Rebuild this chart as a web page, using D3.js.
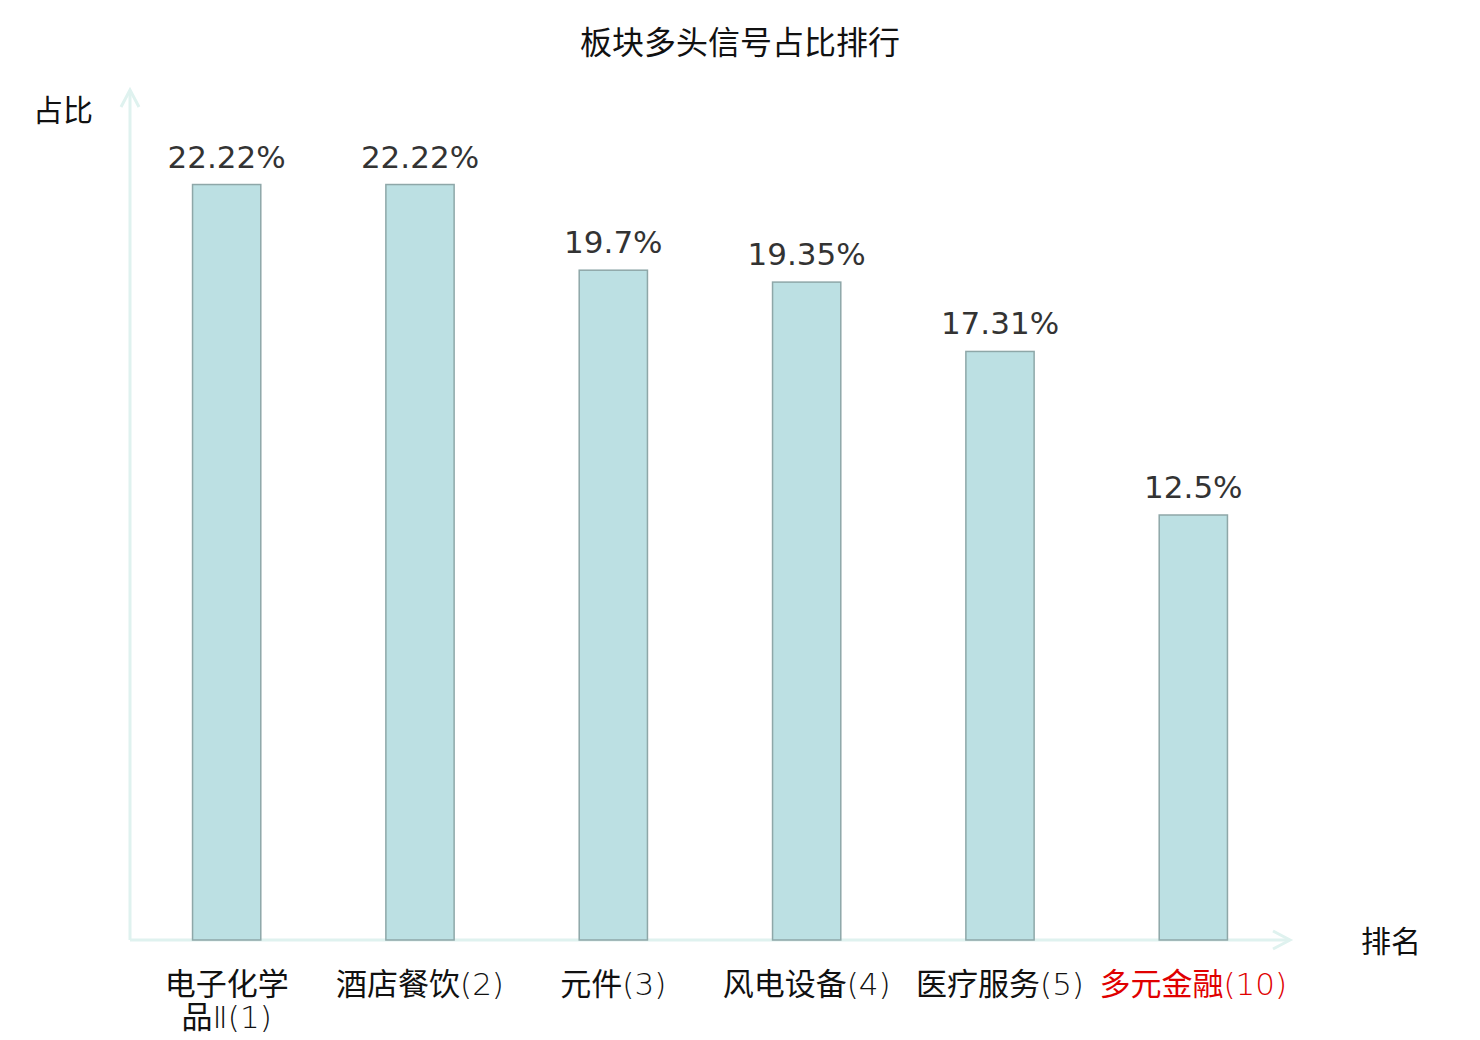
<!DOCTYPE html>
<html>
<head>
<meta charset="utf-8">
<script src="https://cdn.jsdelivr.net/npm/d3@7"></script>
<style>
  body { margin: 0; background: #fff; }
  text { font-family: "Noto Sans CJK SC", "DejaVu Sans", sans-serif; }
</style>
</head>
<body>
<script>
const width = 1480;
const height = 1040;

// Data.
const categories = ["电子化学品Ⅱ(1)", "酒店餐饮(2)", "元件(3)", "风电设备(4)", "医疗服务(5)", "多元金融(10)"];
const labelLines = [["电子化学", "品Ⅱ(1)"], ["酒店餐饮(2)"], ["元件(3)"], ["风电设备(4)"], ["医疗服务(5)"], ["多元金融(10)"]];
const values = [22.22, 22.22, 19.7, 19.35, 17.31, 12.5];
const highlighted = ["多元金融(10)"];

const margin = { left: 130, right: 190, top: 90, bottom: 100 };
const baseY = height - margin.bottom;

const svg = d3.select("body").append("svg")
  .attr("width", width)
  .attr("height", height);

// Scales.
const x = d3.scaleBand()
  .domain(categories)
  .range([margin.left, width - margin.right])
  .paddingInner(0.647)
  .paddingOuter(0.3235);

const y = d3.scaleLinear()
  .domain([0, 25])
  .range([baseY, margin.top]);

const axisColor = "#dff2ef";

// Title.
svg.append("text")
  .attr("x", width / 2)
  .attr("y", 54)
  .attr("text-anchor", "middle")
  .style("font-size", "32px")
  .style("fill", "#111")
  .text("板块多头信号占比排行");

// Y axis line with arrow.
svg.append("line")
  .attr("x1", margin.left).attr("y1", baseY)
  .attr("x2", margin.left).attr("y2", margin.top)
  .attr("stroke", axisColor).attr("stroke-width", 3);
svg.append("path")
  .attr("d", `M${margin.left - 9},${margin.top + 17}L${margin.left},${margin.top}L${margin.left + 9},${margin.top + 17}`)
  .attr("fill", "none").attr("stroke", axisColor).attr("stroke-width", 3);

// X axis line with arrow.
const xEnd = width - margin.right;
svg.append("line")
  .attr("x1", margin.left).attr("y1", baseY)
  .attr("x2", xEnd).attr("y2", baseY)
  .attr("stroke", axisColor).attr("stroke-width", 3);
svg.append("path")
  .attr("d", `M${xEnd - 17},${baseY - 9}L${xEnd},${baseY}L${xEnd - 17},${baseY + 9}`)
  .attr("fill", "none").attr("stroke", axisColor).attr("stroke-width", 3);

// Axis names.
svg.append("text")
  .attr("x", 63).attr("y", 121)
  .attr("text-anchor", "middle")
  .style("font-size", "30px").style("fill", "#111")
  .text("占比");
svg.append("text")
  .attr("x", 1391).attr("y", 952)
  .attr("text-anchor", "middle")
  .style("font-size", "30px").style("fill", "#111")
  .text("排名");

// Bars.
svg.selectAll(".bar")
  .data(values)
  .enter()
  .append("rect")
  .attr("class", "bar")
  .attr("x", (d, i) => x(categories[i]))
  .attr("y", d => y(d))
  .attr("width", x.bandwidth())
  .attr("height", d => baseY - y(d))
  .attr("fill", "#bce0e3")
  .attr("stroke", "#8ea7a8")
  .attr("stroke-width", 1.5);

// Value labels.
svg.selectAll(".value")
  .data(values)
  .enter()
  .append("text")
  .attr("class", "value")
  .attr("x", (d, i) => x(categories[i]) + x.bandwidth() / 2)
  .attr("y", d => y(d) - 17)
  .attr("text-anchor", "middle")
  .style("font-family", "DejaVu Sans")
  .style("font-size", "31px")
  .style("fill", "#333")
  .text(d => d + "%");

// Category labels: CJK runs in Noto Sans CJK, latin runs in thin DejaVu.
function splitRuns(s) {
  return s.match(/[\x00-\x7F\u2160-\u216F]+|[^\x00-\x7F\u2160-\u216F]+/g);
}

labelLines.forEach((lines, i) => {
  const cx = x(categories[i]) + x.bandwidth() / 2;
  lines.forEach((line, j) => {
    const t = svg.append("text")
      .attr("class", "cat")
      .attr("x", cx)
      .attr("y", 995 + j * 33)
      .attr("text-anchor", "middle")
      .style("font-size", "31px")
      .style("fill", highlighted.includes(categories[i]) ? "#e00000" : "#111");
    splitRuns(line).forEach(run => {
      const latin = /^[\x00-\x7F\u2160-\u216F]+$/.test(run);
      t.append("tspan")
        .style("font-family", latin ? "DejaVu Sans" : "Noto Sans CJK SC")
        .style("font-weight", latin ? 200 : 400)
        .text(run);
    });
  });
});
</script>
</body>
</html>
